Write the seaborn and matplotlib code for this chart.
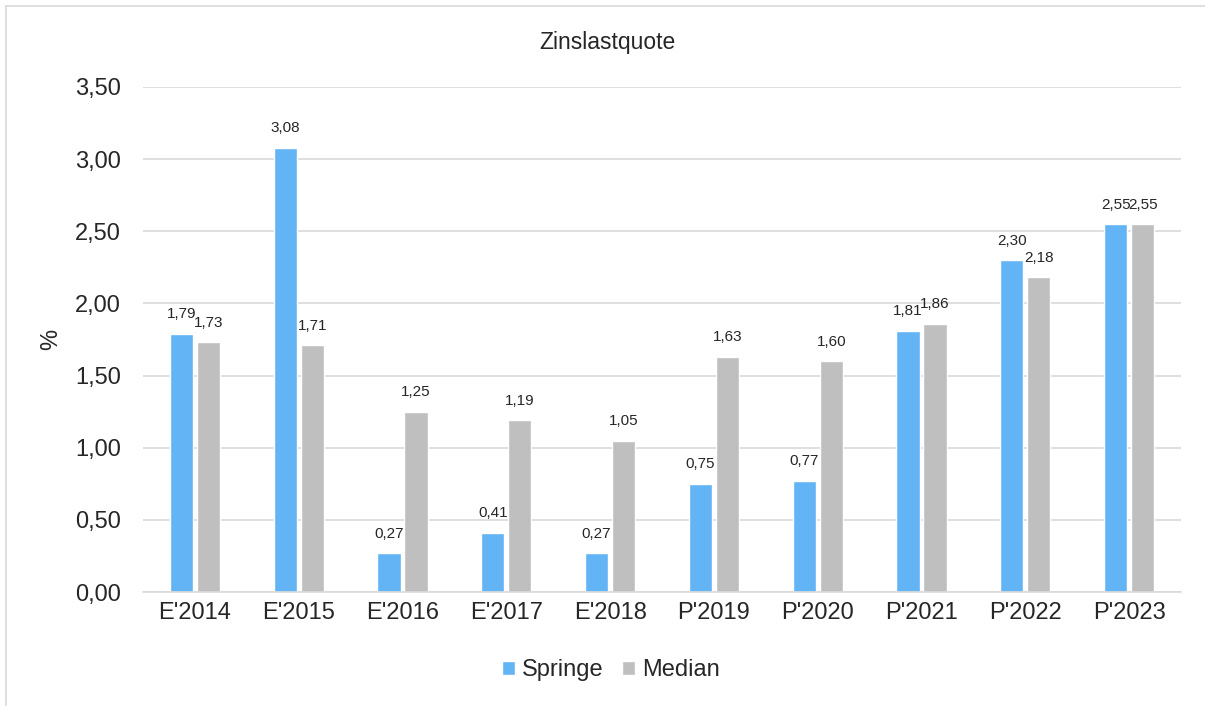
import matplotlib
matplotlib.use("Agg")
import matplotlib.pyplot as plt
import seaborn as sns
import pandas as pd
from matplotlib.lines import Line2D

categories = ["E'2014", "E'2015", "E'2016", "E'2017", "E'2018",
              "P'2019", "P'2020", "P'2021", "P'2022", "P'2023"]
springe = [1.79, 3.08, 0.27, 0.41, 0.27, 0.75, 0.77, 1.81, 2.30, 2.55]
median = [1.73, 1.71, 1.25, 1.19, 1.05, 1.63, 1.60, 1.86, 2.18, 2.55]
series_names = ["Springe", "Median"]
colors = ["#63B4F5", "#BFBFBF"]
yticks = [0, 0.5, 1.0, 1.5, 2.0, 2.5, 3.0, 3.5]

df = pd.DataFrame({
    "cat": categories * 2,
    "val": springe + median,
    "series": [series_names[0]] * len(categories) + [series_names[1]] * len(categories),
})

sns.set_theme(style="white")
plt.rcParams["font.family"] = ["Liberation Sans", "DejaVu Sans"]

fig = plt.figure(figsize=(12.05, 7.06), dpi=100)
ax = fig.add_axes([143 / 1205, 1 - 592 / 706, (1181 - 143) / 1205, (592 - 87) / 706])

sns.barplot(data=df, x="cat", y="val", hue="series", palette=colors,
            width=0.52, gap=0.14, ax=ax, legend=True, saturation=1)

ax.set_ylim(0, 3.5)
ax.set_xlim(-0.5, len(categories) - 0.5)
ax.set_yticks(yticks)
ax.set_yticklabels([f"{v:.2f}".replace(".", ",") for v in yticks], fontsize=17)
ax.tick_params(axis="x", labelsize=17, length=0, pad=7)
ax.tick_params(axis="y", length=0, pad=16)
ax.set_xlabel("")
ax.set_ylabel("%", fontsize=17, labelpad=9)
ax.yaxis.grid(True, color="#D9D9D9", linewidth=1.2)
ax.set_axisbelow(True)
for s in ["left", "right", "top"]:
    ax.spines[s].set_visible(False)
ax.spines["bottom"].set_color("#D9D9D9")
ax.spines["bottom"].set_linewidth(1.2)

for cont in ax.containers:
    labels = [f"{b.get_height():.2f}".replace(".", ",") for b in cont]
    ax.bar_label(cont, labels=labels, fontsize=11, padding=9)

fig.text(607 / 1205, 1 - 42 / 706, "Zinslastquote", fontsize=16.5,
         ha="center", va="center")

leg = ax.legend(loc="center", bbox_to_anchor=(611 / 1205, 1 - 670 / 706),
                bbox_transform=fig.transFigure, ncol=2, frameon=False,
                fontsize=17, handlelength=0.55, handleheight=0.55,
                handletextpad=0.3, columnspacing=0.8)

# outer chart frame
fig.add_artist(Line2D([6 / 1205, 6 / 1205], [0, 1 - 6 / 706], color="#D9D9D9",
                      linewidth=1.2, transform=fig.transFigure))
fig.add_artist(Line2D([6 / 1205, 1], [1 - 6 / 706, 1 - 6 / 706], color="#D9D9D9",
                      linewidth=1.2, transform=fig.transFigure))

fig.savefig("out.png", dpi=100, facecolor="white")
